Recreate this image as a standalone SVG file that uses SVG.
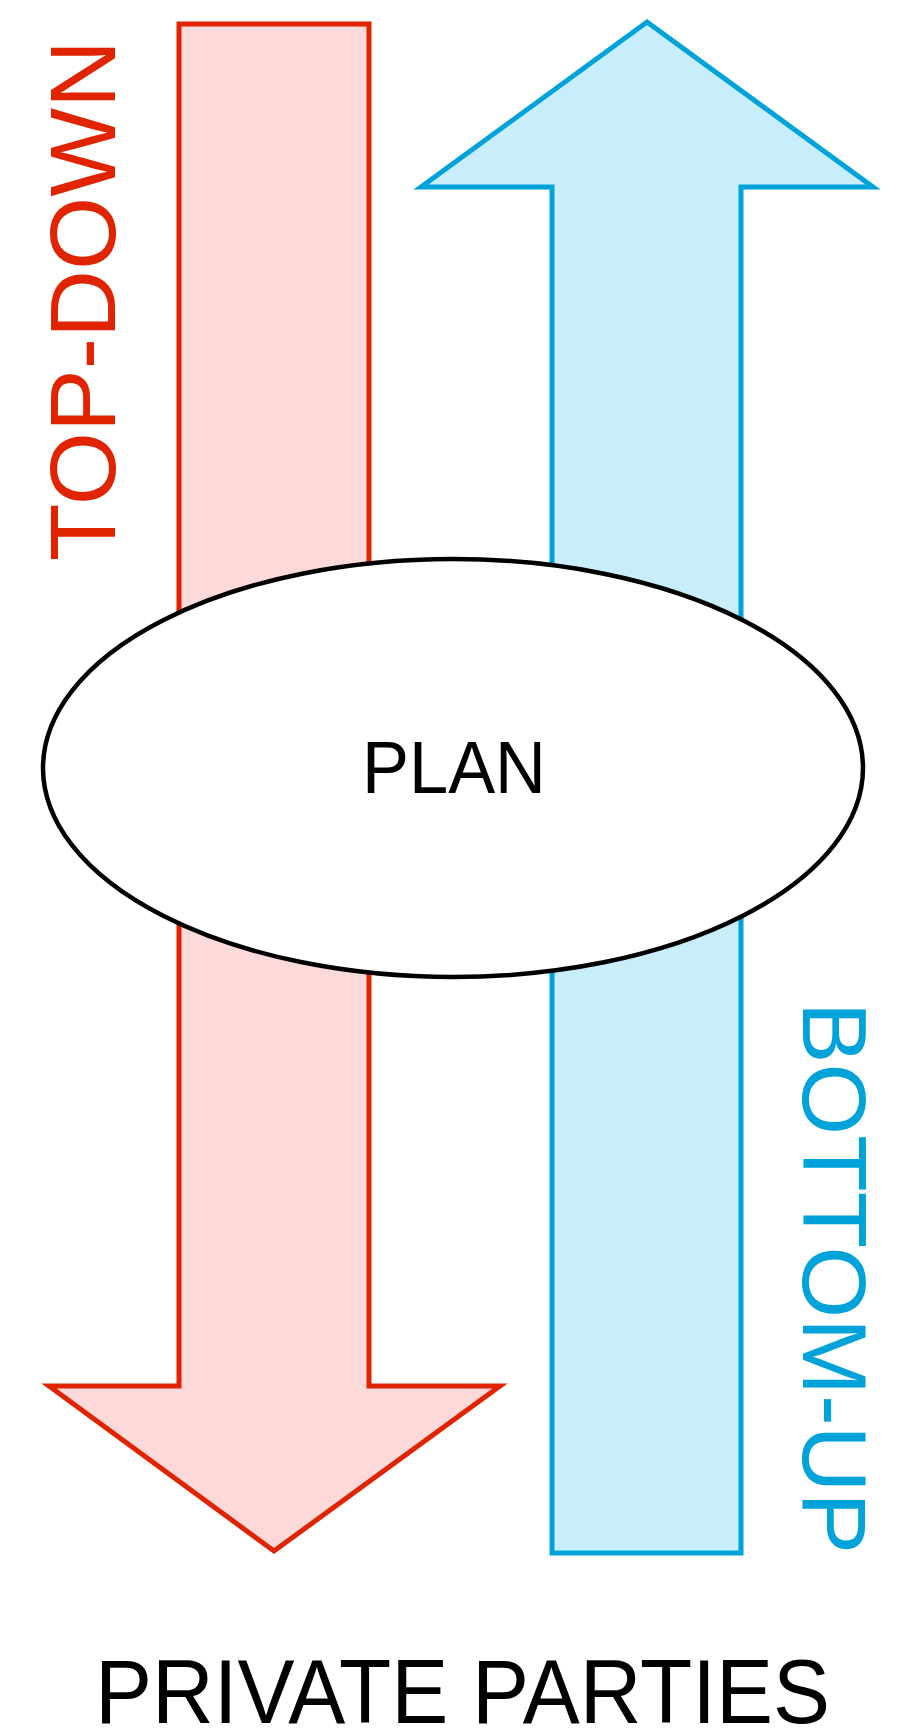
<svg xmlns="http://www.w3.org/2000/svg" width="905" height="1730" viewBox="0 0 905 1730">
<style>
.lbl{font-family:"Liberation Sans",Arial,sans-serif;}
.red{fill:#FDDAD9;stroke:#E02400;stroke-width:5;stroke-linejoin:miter}
.blue{fill:#C9EEFB;stroke:#00A3D9;stroke-width:5;stroke-linejoin:miter}
</style>
<rect width="905" height="1730" fill="#fff"/>
<g id="connectors">
<polygon id="topdown-arrow" class="red" points="179,24 369,24 369,1386 500,1386 274,1551 49,1386 179,1386"/>
<polygon id="bottomup-arrow" class="blue" points="647,22 873,187 741,187 741,1553 552,1553 552,187 421,187"/>
</g>
<g id="plan">
<ellipse cx="453" cy="768" rx="410" ry="209" fill="#fff" stroke="#000" stroke-width="4.5"/>
<text class="lbl" x="362" y="793" font-size="75" textLength="184" lengthAdjust="spacingAndGlyphs" fill="#000">PLAN</text>
</g>
<g id="topdown-label">
<text class="lbl" transform="translate(115,561) rotate(-90)" font-size="92" textLength="521" lengthAdjust="spacingAndGlyphs" fill="#E02400">TOP-DOWN</text>
</g>
<g id="bottomup-label">
<text class="lbl" transform="translate(803,1002) rotate(90)" font-size="91" textLength="552" lengthAdjust="spacingAndGlyphs" fill="#00A3D9">BOTTOM-UP</text>
</g>
<g id="private-parties">
<text class="lbl" x="95" y="1723" font-size="90" textLength="735" lengthAdjust="spacingAndGlyphs" fill="#000">PRIVATE PARTIES</text>
</g>
</svg>
